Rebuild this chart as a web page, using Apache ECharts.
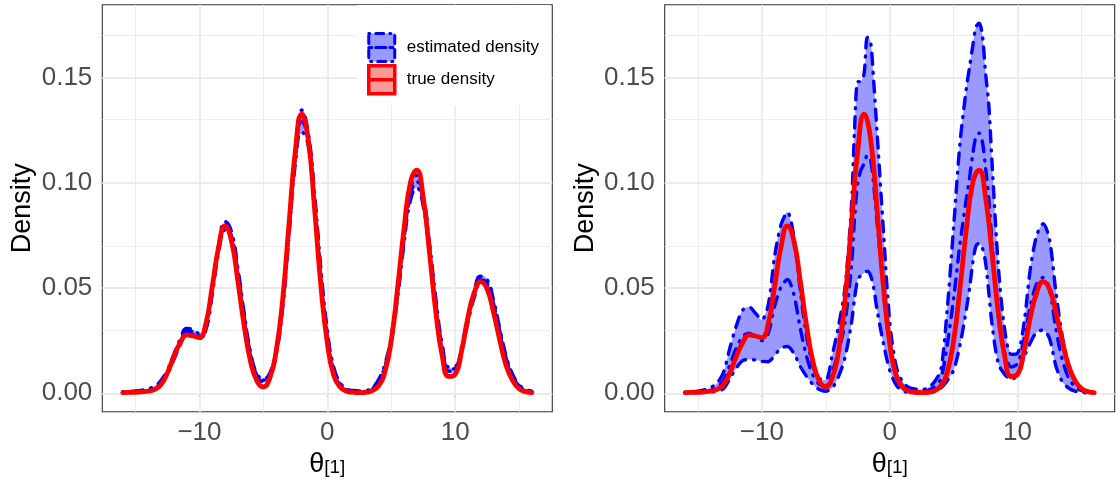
<!DOCTYPE html>
<html>
<head>
<meta charset="utf-8">
<script src="https://cdn.jsdelivr.net/npm/echarts@6/dist/echarts.min.js"></script>
<style>html,body{margin:0;padding:0;background:#fff}#c{width:1120px;height:483px}</style>
</head>
<body>
<div id="c"></div>
<script>
// ---------------- data ----------------
const theta = [-16, -15.5, -15, -14.5, -14, -13.5, -13, -12.5, -12, -11.5,
  -11, -10.5, -10, -9.5, -9, -8.5, -8, -7.5, -7, -6.5,
  -6, -5.5, -5, -4.5, -4, -3.5, -3, -2.5, -2, -1.5,
  -1, -0.5, 0, 0.5, 1, 1.5, 2, 2.5, 3, 3.5,
  4, 4.5, 5, 5.5, 6, 6.5, 7, 7.5, 8, 8.5,
  9, 9.5, 10, 10.5, 11, 11.5, 12, 12.5, 13, 13.5,
  14, 14.5, 15, 15.5, 16];

const trueDensity = [0.0003, 0.0004, 0.0005, 0.0007, 0.0010, 0.0018, 0.0042, 0.0098, 0.0175, 0.0240,
  0.0277, 0.0272, 0.0264, 0.0330, 0.0506, 0.0694, 0.0795, 0.0725, 0.0535, 0.0320,
  0.0150, 0.0058, 0.0030, 0.0072, 0.0200, 0.0440, 0.0800, 0.1150, 0.1325, 0.1210,
  0.0880, 0.0510, 0.0240, 0.0085, 0.0030, 0.0010, 0.0005, 0.0003, 0.0004, 0.0012,
  0.0035, 0.0100, 0.0250, 0.0500, 0.0780, 0.1000, 0.1060, 0.0930, 0.0665, 0.0380,
  0.0175, 0.0080, 0.0090, 0.0200, 0.0360, 0.0478, 0.0530, 0.0495, 0.0385, 0.0250,
  0.0130, 0.0060, 0.0022, 0.0008, 0.0003];

const leftLower = [0.0003, 0.0004, 0.0005, 0.0008, 0.0012, 0.0022, 0.0046, 0.0092, 0.0160, 0.0230,
  0.0282, 0.0280, 0.0262, 0.0300, 0.0470, 0.0670, 0.0775, 0.0728, 0.0560, 0.0350,
  0.0175, 0.0078, 0.0055, 0.0080, 0.0185, 0.0400, 0.0745, 0.1090, 0.1240, 0.1180,
  0.0900, 0.0550, 0.0270, 0.0105, 0.0038, 0.0012, 0.0005, 0.0003, 0.0005, 0.0015,
  0.0048, 0.0118, 0.0245, 0.0455, 0.0710, 0.0915, 0.0975, 0.0890, 0.0665, 0.0405,
  0.0200, 0.0105, 0.0108, 0.0195, 0.0335, 0.0455, 0.0520, 0.0505, 0.0410, 0.0280,
  0.0155, 0.0075, 0.0030, 0.0011, 0.0004];

const leftMean = [0.0005, 0.0006, 0.0008, 0.0011, 0.0016, 0.0027, 0.0054, 0.0102, 0.0172, 0.0245,
  0.0295, 0.0292, 0.0272, 0.0315, 0.0488, 0.0688, 0.0795, 0.0748, 0.0578, 0.0365,
  0.0185, 0.0085, 0.0062, 0.0088, 0.0196, 0.0418, 0.0768, 0.1115, 0.1290, 0.1210,
  0.0925, 0.0570, 0.0285, 0.0115, 0.0045, 0.0017, 0.0009, 0.0007, 0.0009, 0.0021,
  0.0056, 0.0128, 0.0258, 0.0472, 0.0730, 0.0940, 0.1005, 0.0915, 0.0688, 0.0425,
  0.0215, 0.0115, 0.0118, 0.0207, 0.0350, 0.0472, 0.0538, 0.0522, 0.0427, 0.0293,
  0.0165, 0.0082, 0.0035, 0.0015, 0.0007];

const leftUpper = [0.0008, 0.0009, 0.0011, 0.0015, 0.0022, 0.0034, 0.0062, 0.0112, 0.0185, 0.0258,
  0.0308, 0.0303, 0.0283, 0.0330, 0.0505, 0.0705, 0.0815, 0.0768, 0.0596, 0.0380,
  0.0195, 0.0093, 0.0070, 0.0096, 0.0208, 0.0436, 0.0790, 0.1140, 0.1345, 0.1240,
  0.0950, 0.0590, 0.0300, 0.0125, 0.0052, 0.0022, 0.0013, 0.0011, 0.0013, 0.0027,
  0.0064, 0.0138, 0.0270, 0.0490, 0.0750, 0.0965, 0.1035, 0.0940, 0.0710, 0.0445,
  0.0230, 0.0125, 0.0128, 0.0219, 0.0365, 0.0490, 0.0556, 0.0540, 0.0444, 0.0306,
  0.0175, 0.0090, 0.0041, 0.0019, 0.0010];

const thetaRight = [-16, -15.5, -15, -14.5, -14, -13.5, -13, -12.5, -12, -11.5,
  -11, -10.5, -10, -9.5, -9, -8.5, -8, -7.5, -7, -6.5,
  -6, -5.5, -5, -4.5, -4, -3.5, -3,
  -2.75, -2.5, -2.25, -2, -1.75, -1.5, -1.25, -1,
  -0.5, 0, 0.5, 1, 1.5, 2, 2.5, 3, 3.5, 4, 4.5, 5, 5.5, 6,
  6.25, 6.5, 6.75, 7, 7.25, 7.5, 7.75, 8,
  8.5, 9, 9.5, 10, 10.5, 11, 11.5, 12, 12.5, 13, 13.5, 14, 14.5, 15, 15.5, 16];

const rightUpper = [0.0005, 0.0007, 0.0010, 0.0016, 0.0028, 0.0048, 0.0100, 0.0215, 0.0320, 0.0395,
  0.0410, 0.0380, 0.0350, 0.0420, 0.0650, 0.0800, 0.0860, 0.0745, 0.0490, 0.0270,
  0.0130, 0.0070, 0.0065, 0.0180, 0.0320, 0.0500, 0.0880,
  0.1250, 0.1480, 0.1480, 0.1520, 0.1690, 0.1670, 0.1480, 0.1250,
  0.0780, 0.0340, 0.0130, 0.0055, 0.0028, 0.0020, 0.0018, 0.0025, 0.0055, 0.0110, 0.0400, 0.0790, 0.1190, 0.1450,
  0.1550, 0.1650, 0.1740, 0.1757, 0.1700, 0.1520, 0.1370, 0.1100,
  0.0600, 0.0300, 0.0185, 0.0190, 0.0330, 0.0590, 0.0750, 0.0805, 0.0730, 0.0480, 0.0270, 0.0120, 0.0055, 0.0022, 0.0009, 0.0005];

const rightLower = [0.0002, 0.0002, 0.0003, 0.0004, 0.0006, 0.0010, 0.0022, 0.0070, 0.0120, 0.0155,
  0.0160, 0.0158, 0.0152, 0.0150, 0.0180, 0.0215, 0.0222, 0.0190, 0.0128, 0.0080,
  0.0042, 0.0018, 0.0010, 0.0025, 0.0080, 0.0170, 0.0330,
  0.0450, 0.0540, 0.0560, 0.0570, 0.0580, 0.0560, 0.0500, 0.0400,
  0.0240, 0.0110, 0.0040, 0.0012, 0.0004, 0.0002, 0.0002, 0.0003, 0.0008, 0.0025, 0.0060, 0.0110, 0.0230, 0.0400,
  0.0500, 0.0620, 0.0700, 0.0712, 0.0690, 0.0620, 0.0480, 0.0330,
  0.0140, 0.0090, 0.0065, 0.0090, 0.0170, 0.0240, 0.0290, 0.0300, 0.0260, 0.0130, 0.0055, 0.0025, 0.0010, 0.0005, 0.0002, 0.0002];

const rightMean = [0.0003, 0.0004, 0.0006, 0.0009, 0.0016, 0.0028, 0.0060, 0.0135, 0.0215, 0.0270,
  0.0285, 0.0270, 0.0250, 0.0285, 0.0415, 0.0505, 0.0540, 0.0470, 0.0310, 0.0175,
  0.0085, 0.0042, 0.0035, 0.0100, 0.0200, 0.0335, 0.0600,
  0.0830, 0.1000, 0.1060, 0.1090, 0.1130, 0.1110, 0.0990, 0.0820,
  0.0510, 0.0225, 0.0085, 0.0033, 0.0016, 0.0011, 0.0010, 0.0014, 0.0030, 0.0068, 0.0230, 0.0450, 0.0710, 0.0925,
  0.1025, 0.1135, 0.1220, 0.1235, 0.1195, 0.1070, 0.0925, 0.0715,
  0.0370, 0.0195, 0.0125, 0.0140, 0.0250, 0.0415, 0.0520, 0.0550, 0.0495, 0.0305, 0.0160, 0.0072, 0.0032, 0.0013, 0.0006, 0.0003];

const xTicks = [-10, 0, 10];
const xMinor = [-15, -5, 5, 15];
const yTicks = [0, 0.05, 0.10, 0.15];
const yMinor = [0.025, 0.075, 0.125, 0.175];
const xRange = [-17.6, 17.6];
const yRange = [-0.00874, 0.1845];
const legendNames = ['estimated density', 'true density'];

// ---------------- chart ----------------
const FONT = '"Liberation Sans", Arial, Helvetica, sans-serif';
const pairs = (xs, ys) => xs.map((x, i) => [x, ys[i]]);

const panels = [
  {xs: theta, lo: leftLower, mid: leftMean, up: leftUpper, smooth: 0.5, left: 102.3},
  {xs: thetaRight, lo: rightLower, mid: rightMean, up: rightUpper, smooth: 0.3, left: 664.7}
];

const grids = [], xAxes = [], yAxes = [], series = [];
const dash = {color: '#0000FF', width: 3.4, type: [1, 8, 11, 8], cap: 'round', join: 'round'};

panels.forEach((p, k) => {
  grids.push({left: p.left, top: 4.7, width: 450, height: 407, show: true,
    borderColor: '#333333', borderWidth: 1.1, backgroundColor: '#ffffff', outerBoundsMode: 'none'});
  xAxes.push({
    type: 'value', gridIndex: k, min: xRange[0], max: xRange[1],
    splitLine: {show: false}, axisLine: {show: false},
    axisTick: {show: true, length: 4, customValues: xTicks, lineStyle: {color: '#333333', width: 1.1}},
    axisLabel: {customValues: xTicks, color: '#4D4D4D', fontSize: 26, fontFamily: FONT, margin: 8,
      formatter: v => (v < 0 ? '\u2212' + Math.abs(v) : String(v))},
    name: '{t|\u03B8}{s|[1]}', nameLocation: 'middle', nameGap: 37,
    nameTextStyle: {rich: {
      t: {fontSize: 27, color: '#000', fontFamily: FONT, verticalAlign: 'top'},
      s: {fontSize: 19, color: '#000', fontFamily: FONT, verticalAlign: 'top', padding: [8, 0, 0, 0]}
    }}
  });
  yAxes.push({
    type: 'value', gridIndex: k, min: yRange[0], max: yRange[1],
    splitLine: {show: false}, axisLine: {show: false},
    axisTick: {show: true, length: 4, customValues: yTicks, lineStyle: {color: '#333333', width: 1.1}},
    axisLabel: {customValues: yTicks, color: '#4D4D4D', fontSize: 26, fontFamily: FONT, margin: 10,
      formatter: v => v.toFixed(2)},
    name: 'Density', nameLocation: 'middle', nameGap: 66,
    nameTextStyle: {fontSize: 27, color: '#000', fontFamily: FONT}
  });

  const gridLines = [].concat(
    xTicks.map(v => ({xAxis: v, lineStyle: {width: 1.8}})),
    xMinor.map(v => ({xAxis: v, lineStyle: {width: 0.9}})),
    yTicks.map(v => ({yAxis: v, lineStyle: {width: 1.8}})),
    yMinor.map(v => ({yAxis: v, lineStyle: {width: 0.9}}))
  );
  const common = {xAxisIndex: k, yAxisIndex: k, silent: true};

  // panel grid lines (under the data)
  series.push(Object.assign({type: 'line', symbol: 'none', data: [[0, 0]], z: 1, lineStyle: {opacity: 0},
    markLine: {silent: true, z: 1, symbol: 'none', label: {show: false}, animation: false,
      lineStyle: {color: '#EBEBEB', type: 'solid'}, data: gridLines}}, common));
  // band fill between lower and upper, placed through the axes' scales
  series.push(Object.assign({name: legendNames[0], type: 'custom', coordinateSystem: 'cartesian2d',
    data: [[0, 0]], z: 2, clip: true,
    renderItem: (params, api) => {
      const top = p.xs.map((x, i) => api.coord([x, p.up[i]]));
      const bot = p.xs.map((x, i) => api.coord([x, p.lo[i]])).reverse();
      return {type: 'polygon', shape: {points: top.concat(bot), smooth: p.smooth},
        style: {fill: '#9999FF', stroke: null}};
    }}, common));
  // dash-dot band edges and estimated mean
  [p.lo, p.mid, p.up].forEach(arr => {
    series.push(Object.assign({type: 'line', symbol: 'none', data: pairs(p.xs, arr), smooth: p.smooth, z: 3,
      lineStyle: dash}, common));
  });
  // true density
  series.push(Object.assign({name: legendNames[1], type: 'line', symbol: 'none', data: pairs(theta, trueDensity),
    smooth: 0.5, z: 5, lineStyle: {color: '#FF0000', width: 4.8, cap: 'round', join: 'round'}}, common));
});

const keyPath = 'path://M0,0H26V14H0Z M0,14H26V28H0Z';
const option = {
  animation: false,
  backgroundColor: '#ffffff',
  grid: grids, xAxis: xAxes, yAxis: yAxes, series: series,
  legend: {
    orient: 'vertical', left: 357, top: 5, padding: [27, 11, 10, 10], z: 10,
    backgroundColor: '#ffffff', itemWidth: 26, itemHeight: 28, itemGap: 1,
    symbolKeepAspect: false, selectedMode: false,
    textStyle: {fontSize: 17, color: '#000', fontFamily: FONT, padding: [0, 0, 0, 7]},
    data: [
      {name: legendNames[0], icon: keyPath,
        itemStyle: {color: '#9999FF', borderColor: '#0000FF', borderWidth: 3, borderType: [1, 6, 8, 6], borderCap: 'round'}},
      {name: legendNames[1], icon: keyPath,
        itemStyle: {color: '#FF9999', borderColor: '#FF0000', borderWidth: 3.5}}
    ]
  }
};
const chart = echarts.init(document.getElementById('c'), null, {renderer: 'canvas'});
chart.setOption(option);
</script>
</body>
</html>
